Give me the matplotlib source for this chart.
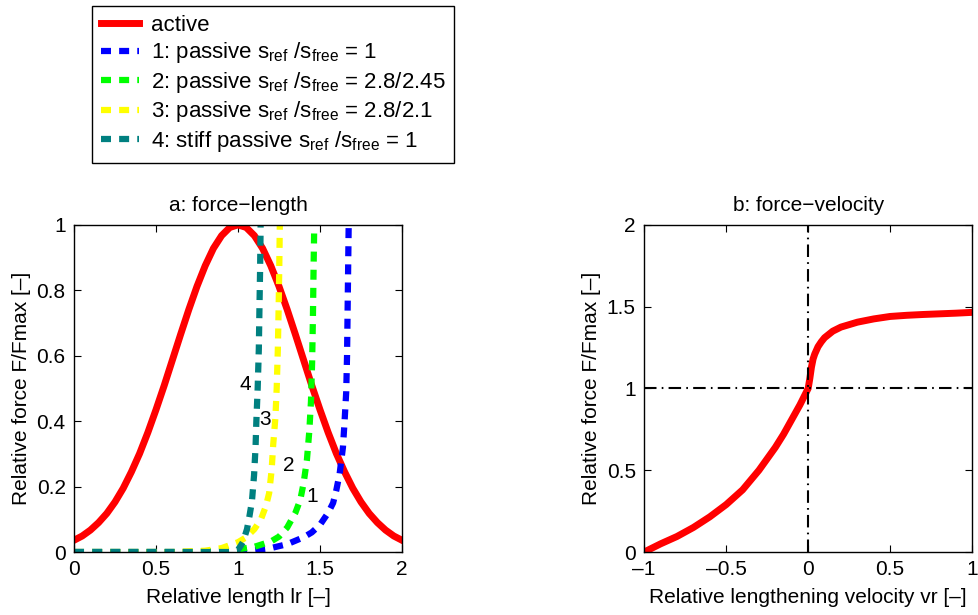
import numpy as np
import matplotlib
matplotlib.use("Agg")
import matplotlib.pyplot as plt

plt.rcParams['font.family'] = ['Liberation Sans', 'DejaVu Sans']
plt.rcParams['mathtext.fontset'] = 'custom'
plt.rcParams['mathtext.rm'] = 'Liberation Sans'
plt.rcParams['mathtext.it'] = 'Liberation Sans'
plt.rcParams['font.size'] = 15

# force-length: active curve
lr = np.linspace(0, 2, 41)
active = [0.036, 0.049, 0.067, 0.090, 0.118, 0.153, 0.195, 0.245, 0.301, 0.365,
          0.435, 0.509, 0.587, 0.665, 0.741, 0.812, 0.875, 0.928, 0.967, 0.992,
          1.0,
          0.992, 0.967, 0.928, 0.875, 0.812, 0.741, 0.665, 0.587, 0.509, 0.435,
          0.365, 0.301, 0.245, 0.195, 0.153, 0.118, 0.090, 0.067, 0.049, 0.036]

# passive curves
p1_x = [0.0, 0.8, 1.0, 1.1, 1.2, 1.3, 1.4, 1.45, 1.5, 1.55, 1.58, 1.6, 1.62, 1.64,
        1.65, 1.66, 1.665, 1.668, 1.672, 1.675]
p1_y = [0.0, 0.0, 0.003, 0.006, 0.012, 0.024, 0.045, 0.06, 0.083, 0.12, 0.15, 0.19,
        0.24, 0.32, 0.40, 0.49, 0.60, 0.72, 0.88, 1.0]

p2_x = [0.0, 0.7, 0.9, 1.0, 1.1, 1.2, 1.25, 1.3, 1.35, 1.38, 1.40, 1.42, 1.435,
        1.445, 1.452, 1.457, 1.461, 1.465]
p2_y = [0.0, 0.0, 0.004, 0.008, 0.016, 0.032, 0.047, 0.075, 0.12, 0.16, 0.21, 0.28,
        0.37, 0.46, 0.58, 0.72, 0.87, 1.0]

p3_x = [0.0, 0.6, 0.8, 0.9, 1.0, 1.05, 1.1, 1.14, 1.17, 1.19, 1.205, 1.215, 1.228,
        1.236, 1.243, 1.248, 1.252, 1.255]
p3_y = [0.0, 0.0, 0.004, 0.012, 0.03, 0.045, 0.07, 0.10, 0.14, 0.18, 0.25, 0.33,
        0.41, 0.50, 0.62, 0.75, 0.88, 1.0]

p4_x = [0.0, 0.95, 1.0, 1.03, 1.055, 1.07, 1.085, 1.098, 1.107, 1.112, 1.12, 1.127,
        1.131, 1.135, 1.138]
p4_y = [0.0, 0.0, 0.006, 0.03, 0.07, 0.11, 0.155, 0.235, 0.32, 0.40, 0.5, 0.62,
        0.75, 0.87, 1.0]

labels = ['active',
          r'1: passive s$_{\mathrm{ref}}$ /s$_{\mathrm{free}}$ = 1',
          r'2: passive s$_{\mathrm{ref}}$ /s$_{\mathrm{free}}$ = 2.8/2.45',
          r'3: passive s$_{\mathrm{ref}}$ /s$_{\mathrm{free}}$ = 2.8/2.1',
          r'4: stiff passive s$_{\mathrm{ref}}$ /s$_{\mathrm{free}}$ = 1']
curve_tags = ['1', '2', '3', '4']
tag_x = [1.453, 1.311, 1.165, 1.043]
tag_y = [0.171, 0.263, 0.406, 0.511]

# force-velocity
vr = [-1.0, -0.9, -0.8, -0.7, -0.6, -0.5, -0.4, -0.3, -0.2, -0.15, -0.1, -0.05,
      -0.03, -0.01, 0.0, 0.01, 0.02, 0.03, 0.04, 0.06, 0.08, 0.1, 0.15, 0.2, 0.3,
      0.4, 0.5, 0.6, 0.7, 0.8, 0.9, 1.0]
fv = [0.0, 0.05, 0.095, 0.15, 0.215, 0.29, 0.38, 0.50, 0.64, 0.72, 0.81, 0.90,
      0.94, 0.98, 1.0, 1.06, 1.13, 1.18, 1.21, 1.255, 1.285, 1.31, 1.35, 1.375,
      1.405, 1.425, 1.44, 1.447, 1.452, 1.456, 1.46, 1.465]

teal = (0.0, 0.5, 0.5)
fig = plt.figure(figsize=(9.79, 6.15), dpi=100)
ax1 = fig.add_axes([0.0756, 0.1024, 0.335, 0.532])
ax2 = fig.add_axes([0.658, 0.1024, 0.335, 0.532])

dash = (1.6, 1.3)
h0, = ax1.plot(lr, active, color='red', lw=5)
h1, = ax1.plot(p1_x, p1_y, color='blue', lw=4.5, dashes=dash)
h2, = ax1.plot(p2_x, p2_y, color=(0, 1, 0), lw=4.5, dashes=dash)
h3, = ax1.plot(p3_x, p3_y, color=(1, 1, 0), lw=4.5, dashes=dash)
h4, = ax1.plot(p4_x, p4_y, color=teal, lw=4.5, dashes=dash)
for t, x, y in zip(curve_tags, tag_x, tag_y):
    ax1.text(x, y, t, ha='center', va='center', fontsize=15)

ax1.set_xlim(0, 2)
ax1.set_ylim(0, 1)
ax1.set_xticks([0, 0.5, 1, 1.5, 2])
ax1.set_xticklabels(['0', '0.5', '1', '1.5', '2'])
ax1.set_yticks([0, 0.2, 0.4, 0.6, 0.8, 1])
ax1.set_yticklabels(['0', '0.2', '0.4', '0.6', '0.8', '1'])
ax1.set_xlabel('Relative length lr [–]', labelpad=6)
ax1.set_ylabel('Relative force F/Fmax [–]', labelpad=4)
ax1.set_title('a: force−length', fontsize=15, pad=10)

ax2.plot(vr, fv, color='red', lw=5)
ax2.axhline(1, color='black', lw=1.5, dashes=(6, 2.5, 0.8, 2.5))
ax2.axvline(0, color='black', lw=1.5, dashes=(6, 2.5, 0.8, 2.5))
ax2.set_xlim(-1, 1)
ax2.set_ylim(0, 2)
ax2.set_xticks([-1, -0.5, 0, 0.5, 1])
ax2.set_xticklabels(['–1', '–0.5', '0', '0.5', '1'])
ax2.set_yticks([0, 0.5, 1, 1.5, 2])
ax2.set_yticklabels(['0', '0.5', '1', '1.5', '2'])
ax2.set_xlabel('Relative lengthening velocity vr [–]', labelpad=6)
ax2.set_ylabel('Relative force F/Fmax [–]', labelpad=4)
ax2.set_title('b: force−velocity', fontsize=15, pad=10)

for ax in (ax1, ax2):
    ax.tick_params(direction='in', top=True, right=True, length=5, width=0.8,
                   labelsize=15, pad=6)
    for s in ax.spines.values():
        s.set_linewidth(1.0)

leg = fig.legend([h0, h1, h2, h3, h4], labels, loc='upper left',
                 bbox_to_anchor=(0.094, 0.990), fontsize=16, frameon=True,
                 fancybox=False, edgecolor='black', framealpha=1,
                 handlelength=1.7, handletextpad=0.55, labelspacing=0.2,
                 borderpad=0.4, borderaxespad=0)
leg.get_frame().set_linewidth(1.0)

fig.savefig('out.png', dpi=100)
